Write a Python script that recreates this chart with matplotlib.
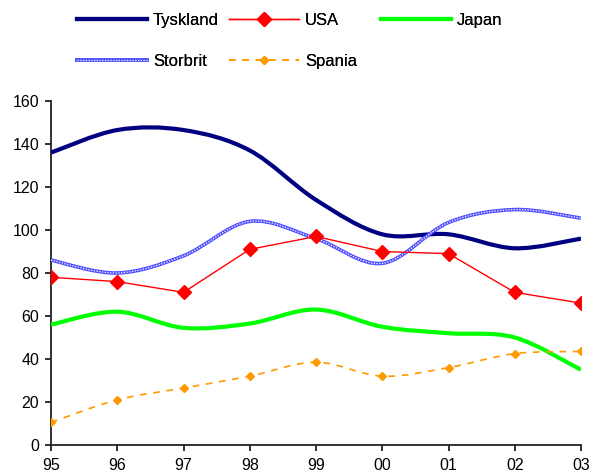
import matplotlib
matplotlib.use("Agg")
import matplotlib.pyplot as plt
from matplotlib.path import Path
from matplotlib.patches import PathPatch
from matplotlib.lines import Line2D
import numpy as np

years = ["95", "96", "97", "98", "99", "00", "01", "02", "03"]
tyskland = [136, 146.5, 146.5, 137, 114, 98, 98, 91.5, 96]
usa = [78, 76, 71, 91, 97, 90, 89, 71, 66]
japan = [56, 62, 54.5, 56.5, 63, 55, 52, 50, 35]
storbrit = [86, 80, 88, 104, 96, 84.5, 103.5, 109.5, 105.5]
spania = [10.5, 21, 26.5, 32, 38.5, 32, 36, 42.5, 43.5]

plt.rcParams['font.family'] = ['Liberation Sans', 'DejaVu Sans']


def smooth_path(xs, ys):
    # bezier curve through the points, like the smoothed lines of a spreadsheet
    pts = np.column_stack([xs, ys]).astype(float)
    n = len(pts)
    verts = [pts[0]]
    codes = [Path.MOVETO]
    for i in range(n - 1):
        p0 = pts[max(i - 1, 0)]
        p1 = pts[i]
        p2 = pts[i + 1]
        p3 = pts[min(i + 2, n - 1)]
        c1 = p1 + (p2 - p0) / 6.0
        c2 = p2 - (p3 - p1) / 6.0
        verts += [c1, c2, p2]
        codes += [Path.CURVE4] * 3
    return Path(verts, codes)


def main():
    fig = plt.figure(figsize=(5.92, 4.72), dpi=100)
    ax = fig.add_axes([51 / 592, 27 / 472, 530 / 592, 344 / 472])
    x = np.arange(len(years))

    ax.add_patch(PathPatch(smooth_path(x, tyskland), fill=False, ec='#000080', lw=3, capstyle='butt', zorder=3))
    ax.add_patch(PathPatch(smooth_path(x, japan), fill=False, ec='#00ff00', lw=3, zorder=3))
    ax.add_patch(PathPatch(smooth_path(x, storbrit), fill=False, ec='#5050ff', lw=2.6, zorder=3))
    ax.add_patch(PathPatch(smooth_path(x, storbrit), fill=False, ec='white', lw=0.9, ls=(0, (1, 1.2)), zorder=3.1))
    ax.add_patch(PathPatch(smooth_path(x, spania), fill=False, ec='#ff9900', lw=1.2, ls=(0, (4, 4)), zorder=3))
    ax.plot(x, spania, ls='none', marker='D', ms=4.5, color='#ff9900', zorder=4)
    ax.plot(x, usa, color='#ff0000', lw=1, marker='D', ms=7, zorder=5)

    ax.set_xlim(0, 8)
    ax.set_ylim(0, 160)
    ax.set_xticks(x)
    ax.set_xticklabels(years)
    ax.set_yticks(range(0, 161, 20))
    for s in ['top', 'right']:
        ax.spines[s].set_visible(False)
    for s in ['left', 'bottom']:
        ax.spines[s].set_linewidth(1.3)
        ax.spines[s].set_color('#222222')
    ax.tick_params(direction='out', length=4.5, width=1.3, color='#222222', labelsize=11.5, pad=4)
    ax.tick_params(axis='x', pad=5)
    ax.patch.set_visible(False)

    h_ty = Line2D([], [], color='#000080', lw=3)
    h_us = Line2D([], [], color='#ff0000', lw=1, marker='D', ms=7)
    h_ja = Line2D([], [], color='#00ff00', lw=3)
    h_sb = (Line2D([], [], color='#5050ff', lw=2.6), Line2D([], [], color='white', lw=0.9, ls=(0, (1, 1.2))))
    h_sp = Line2D([], [], color='#ff9900', lw=1.2, ls=(0, (4, 4)), marker='D', ms=4.5)

    cols = [([h_ty, h_sb], ['Tyskland', 'Storbrit'], 77),
            ([h_us, h_sp], ['USA', 'Spania'], 229),
            ([h_ja], ['Japan'], 381)]
    for hs, ls, px in cols:
        leg = fig.legend(hs, ls, loc='upper left', bbox_to_anchor=(px / 592, 1 - 13 / 472),
                         frameon=False, fontsize=12, handlelength=4.2, handletextpad=0.35,
                         labelspacing=1.55, borderpad=0, borderaxespad=0)
        fig.add_artist(leg)

    fig.savefig('out.png', dpi=100)


if __name__ == '__main__':
    main()
